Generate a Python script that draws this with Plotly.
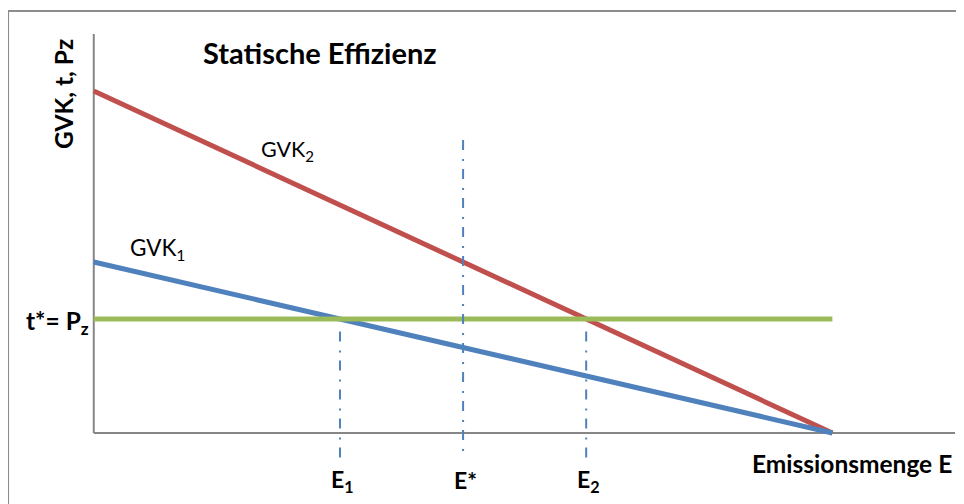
import plotly.graph_objects as go

# ---- data (abstract units) ----
E_max = 10.0            # emission level where both GVK curves reach zero
t_star = 2.0            # tax / permit price t* = Pz
gvk1_intercept = 3.0
gvk2_intercept = 6.0
E_points = [10/3, 5.0, 20/3]          # E1, E*, E2
E_labels = ["E<sub>1</sub>", "E*", "E<sub>2</sub>"]
E_tops = [1.78, 5.14, 1.78]
E_bottoms = [-0.46, -0.39, -0.49]
x_axis_end = 11.66
y_axis_top = 7.0

FONT = "Lato"
RED = "#C0504D"
BLUE = "#4F81BD"
GREEN = "#9BBB59"
GRAY = "#868686"

fig = go.Figure()

# GVK2 (red)
fig.add_trace(go.Scatter(x=[0, E_max], y=[gvk2_intercept, 0], mode="lines",
                         line=dict(color=RED, width=5), hoverinfo="skip"))
# GVK1 (blue)
fig.add_trace(go.Scatter(x=[0, E_max], y=[gvk1_intercept, 0], mode="lines",
                         line=dict(color=BLUE, width=5), hoverinfo="skip"))
# t* = Pz (green)
fig.add_trace(go.Scatter(x=[0, E_max], y=[t_star, t_star], mode="lines",
                         line=dict(color=GREEN, width=5), hoverinfo="skip"))

# dash-dot verticals
for xe, top, bot in zip(E_points, E_tops, E_bottoms):
    fig.add_trace(go.Scatter(x=[xe, xe], y=[top, bot], mode="lines",
                             line=dict(color=BLUE, width=2, dash="10px,9px,2px,8px"),
                             hoverinfo="skip"))

# axis lines
fig.add_shape(type="line", x0=0, y0=0, x1=x_axis_end, y1=0, xref="x", yref="y",
              line=dict(color=GRAY, width=2), layer="below")
fig.add_shape(type="line", x0=0, y0=0, x1=0, y1=y_axis_top, xref="x", yref="y",
              line=dict(color=GRAY, width=2), layer="below")

# outer border
fig.add_shape(type="rect", xref="paper", yref="paper",
              x0=-0.081, y0=-0.08, x1=1.05, y1=1.0504,
              line=dict(color="#8C8C8C", width=2), layer="below")

annos = []

def f(size, color="black"):
    return dict(family=FONT, size=size, color=color)

def px2x(px):
    return (px - 94) / 73.86

def py2y(py):
    return (433 - py) / 57.0

annos.append(dict(text="<b>Statische Effizienz</b>", x=px2x(320), y=py2y(52),
                  xanchor="center", yanchor="middle", font=f(29)))
annos.append(dict(text="<b>t*= P<sub>z</sub></b>", x=px2x(91), y=py2y(322),
                  xanchor="right", yanchor="middle", font=f(24.5)))
annos.append(dict(text="GVK<sub>2</sub>", x=px2x(288), y=py2y(150),
                  xanchor="center", yanchor="middle", font=f(21.5)))
annos.append(dict(text="GVK<sub>1</sub>", x=px2x(158), y=py2y(249),
                  xanchor="center", yanchor="middle", font=f(22.5)))
for xe, lab in zip(E_points, E_labels):
    annos.append(dict(text="<b>" + lab + "</b>", x=xe + 0.03, y=py2y(480),
                      xanchor="center", yanchor="middle", font=f(23)))
annos.append(dict(text="<b>Emissionsmenge E</b>", x=px2x(954), y=py2y(463),
                  xanchor="right", yanchor="middle", font=f(24.5)))

for a in annos:
    a.update(xref="x", yref="y", showarrow=False)

# rotated y-axis title (paper coordinates so it is not hidden outside the x range)
annos.append(dict(text="<b>GVK, t, Pz</b>", xref="paper", yref="paper",
                  x=(64 - 79) / 876, y=1 - (94 - 34) / 456, textangle=-90,
                  xanchor="center", yanchor="middle", showarrow=False, font=f(24.5)))

fig.update_layout(
    width=964, height=504,
    margin=dict(l=71, r=17, t=26, b=22),
    paper_bgcolor="white", plot_bgcolor="white",
    showlegend=False,
    xaxis=dict(range=[-0.2, x_axis_end], visible=False),
    yaxis=dict(range=[-1, y_axis_top], visible=False),
    annotations=annos,
)

fig.write_html("out.html")
